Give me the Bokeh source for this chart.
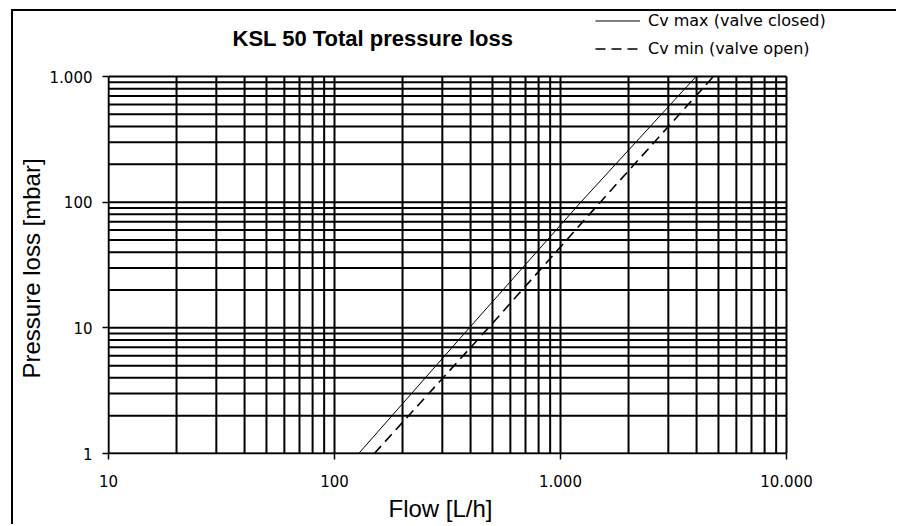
from bokeh.plotting import figure
from bokeh.models import FixedTicker, Legend, LegendItem, Label, Title
from bokeh.embed import file_html
from bokeh.resources import INLINE

# Data
flow_cv_max = [128, 395, 1230, 3980]
loss_cv_max = [1, 10, 100, 1000]
flow_cv_min = [150, 480, 1500, 4750]
loss_cv_min = [1, 10, 100, 1000]

x_major = [10, 100, 1000, 10000]
x_labels = {10: "10", 100: "100", 1000: "1.000", 10000: "10.000"}
y_major = [1, 10, 100, 1000]
y_labels = {1: "1", 10: "10", 100: "100", 1000: "1.000"}
x_minor = [m * d for d in (10, 100, 1000) for m in range(2, 10)]
y_minor = [m * d for d in (1, 10, 100) for m in range(2, 10)]
title_text = "KSL 50 Total pressure loss"
x_title = "Flow [L/h]"
y_title = "Pressure loss [mbar]"
series_names = ["Cv max (valve closed)", "Cv min (valve open)"]

FONT = "Liberation Sans"
TICK_FONT = "DejaVu Sans"

# layout (pixels)
OX, OY = 13, 11                 # offset for the outer border line
W, H = 898 - OX, 526 - OY
LEFT, BOTTOM = 95, 73
PLOT_W, PLOT_H = 678, 377       # pixel size of the 10..10000 x 1..1000 area
FRAME_W, FRAME_H = W - LEFT, H - BOTTOM
# the drawing frame also covers the header (title, legend) area
x_end = x_major[-1] * 10 ** (3 * (FRAME_W - PLOT_W) / PLOT_W)
y_end = y_major[-1] * 10 ** (3 * (FRAME_H - PLOT_H) / PLOT_H)

p = figure(width=W, height=H, x_axis_type="log", y_axis_type="log",
           x_range=(x_major[0], x_end), y_range=(y_major[0], y_end),
           output_backend="svg", toolbar_location=None,
           min_border_left=LEFT, min_border_right=0,
           min_border_top=0, min_border_bottom=BOTTOM,
           margin=(OY, 0, 0, OX))
p.styles = {"box-shadow": "-2px -2px 0 0 black"}
p.outline_line_color = None
p.xgrid.visible = False
p.ygrid.visible = False

for ax, ticks, minor, labels in ((p.xaxis, x_major, x_minor, x_labels),
                                 (p.yaxis, y_major, y_minor, y_labels)):
    ax.ticker = FixedTicker(ticks=ticks, minor_ticks=minor)
    ax.bounds = (ticks[0], ticks[-1])
    ax.major_label_overrides = labels
    ax.major_label_text_font = TICK_FONT
    ax.major_label_text_font_size = "15px"
    ax.major_label_text_color = "black"
    ax.major_tick_out = 6
    ax.major_tick_in = 0
    ax.minor_tick_out = 0
    ax.minor_tick_in = 0
    ax.axis_line_color = "black"
    ax.axis_line_width = 1.5
    ax.major_tick_line_color = "black"
    ax.major_tick_line_width = 1.5
p.xaxis.major_label_standoff = 15
p.yaxis.major_label_standoff = 10

# axis titles (placed along the 1..1000 / 10..10000 span)
p.add_layout(Title(text=y_title, align="left", offset=75, standoff=4,
                   text_font=FONT, text_font_size="24px",
                   text_font_style="normal", text_color="black"), "left")
p.add_layout(Title(text=x_title, align="left", offset=280, standoff=7,
                   text_font=FONT, text_font_size="24px",
                   text_font_style="normal", text_color="black"), "below")

# grid lines over the 10..10000 x 1..1000 area
xg = x_major + x_minor
yg = y_major + y_minor
p.segment(x0=xg, x1=xg, y0=[y_major[0]] * len(xg), y1=[y_major[-1]] * len(xg),
          line_color="black", line_width=2)
p.segment(x0=[x_major[0]] * len(yg), x1=[x_major[-1]] * len(yg), y0=yg, y1=yg,
          line_color="black", line_width=2)

r_max = p.line(flow_cv_max, loss_cv_max, line_color="black", line_width=1)
r_min = p.line(flow_cv_min, loss_cv_min, line_color="black", line_width=1.6,
               line_dash="10 6")

legend = Legend(items=[LegendItem(label=series_names[0], renderers=[r_max]),
                       LegendItem(label=series_names[1], renderers=[r_min])],
                location=(487, FRAME_H - 47), padding=0, margin=0, spacing=9,
                glyph_width=45, glyph_height=19, label_height=19,
                label_standoff=8, border_line_color=None,
                background_fill_alpha=0,
                label_text_font=TICK_FONT, label_text_font_size="16px",
                label_text_color="black")
p.add_layout(legend, "center")

p.add_layout(Label(x=124, y=FRAME_H - 27, x_units="screen", y_units="screen",
                   text=title_text, text_font=FONT, text_font_size="22px",
                   text_font_style="bold", text_color="black",
                   text_align="left", text_baseline="middle"))

open("out.html", "w").write(file_html(p, INLINE))
